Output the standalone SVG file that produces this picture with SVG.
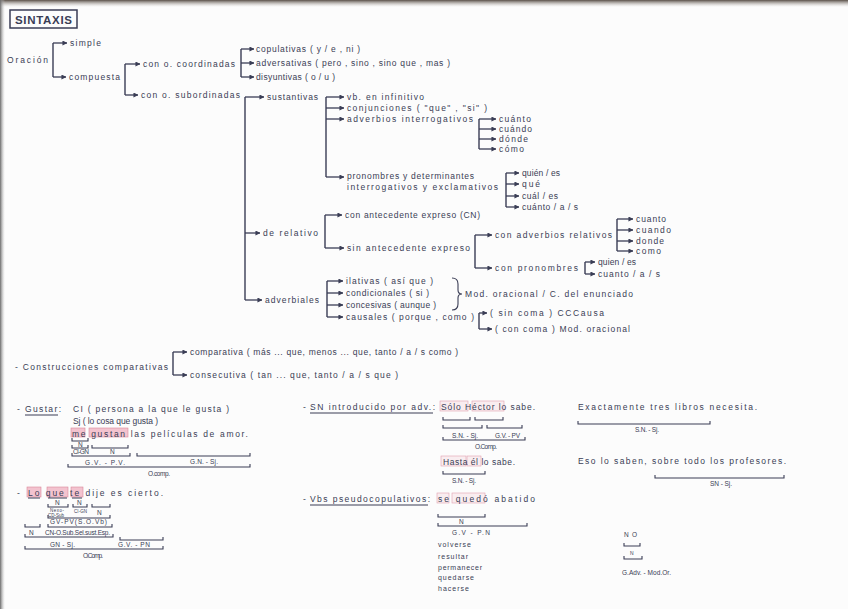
<svg xmlns="http://www.w3.org/2000/svg" width="848" height="609" viewBox="0 0 848 609">
<defs>
<linearGradient id="edge" x1="0" y1="0" x2="0" y2="1"><stop offset="0" stop-color="#5a5048"/><stop offset="1" stop-color="#c8c4c0" stop-opacity="0"/></linearGradient>
<linearGradient id="edgeL" x1="0" y1="0" x2="1" y2="0"><stop offset="0" stop-color="#6a6a6a"/><stop offset="1" stop-color="#d0d0d0" stop-opacity="0"/></linearGradient>
<marker id="ah" viewBox="0 0 6 6" refX="5.5" refY="3" markerWidth="5" markerHeight="5" markerUnits="userSpaceOnUse" orient="auto"><path d="M0,0 L6,3 L0,6 z" fill="#3a3d55"/></marker>
<style>
.t{font-family:"Liberation Sans",Arial,sans-serif;font-size:8.5px;fill:#3a3d55}
.s{font-size:6.5px}
.xs{font-size:4.5px}
.ttl{font-size:11.5px;font-weight:bold}
.v{stroke:#3a3d55;stroke-width:1.4;fill:none}
.a{stroke:#3a3d55;stroke-width:1.3;fill:none;marker-end:url(#ah)}
.br{stroke:#3a3d55;stroke-width:1.1;fill:none}
.ul{stroke:#3a3d55;stroke-width:1;fill:none}
.hl{fill:#f3c3cf;stroke:#d9879a;stroke-width:0.6}
.hl2{fill:#f6dde3;fill-opacity:0.5;stroke:#e0a0ae;stroke-width:0.6}
</style>
</defs>
<rect width="848" height="609" fill="#fcfcfc"/>
<rect width="848" height="7" fill="url(#edge)"/>
<rect width="5" height="609" fill="url(#edgeL)"/>

<g id="highlights">
<rect class="hl" x="71" y="428" width="14" height="9"/>
<rect class="hl" x="89" y="428" width="39" height="9"/>
<rect class="hl" x="27" y="487" width="14" height="10"/>
<rect class="hl" x="47" y="487" width="21" height="10"/>
<rect class="hl" x="71" y="487" width="12" height="10"/>
<rect class="hl2" x="440" y="401" width="28" height="10"/>
<rect class="hl2" x="472" y="401" width="32" height="10"/>
<rect class="hl2" x="441" y="456" width="25" height="10"/>
<rect class="hl2" x="467" y="456" width="14" height="10"/>
<rect class="hl2" x="437" y="493" width="12" height="10"/>
<rect class="hl2" x="452" y="493" width="33" height="10"/>
</g>

<g id="title">
<rect x="10" y="10" width="67" height="18" fill="none" stroke="#3a3d55" stroke-width="1.5"/>
<text class="t ttl" x="15" y="24" textLength="57">SINTAXIS</text>
</g>

<g id="connectors">
<path class="v" d="M53 43 V77"/><path class="a" d="M53 43 H67"/><path class="a" d="M53 77 H66"/>
<path class="v" d="M125 64 V95"/><path class="a" d="M125 64 H140"/><path class="a" d="M125 95 H138"/>
<path class="v" d="M241 49 V77"/><path class="a" d="M241 49 H254"/><path class="a" d="M241 63 H254"/><path class="a" d="M241 77 H254"/>
<path class="v" d="M245 97 V300"/><path class="a" d="M245 97 H264"/><path class="a" d="M245 233 H260"/><path class="a" d="M245 300 H262"/>
<path class="v" d="M326 97 V177"/><path class="a" d="M326 97 H344"/><path class="a" d="M326 108 H344"/><path class="a" d="M326 119 H344"/><path class="a" d="M326 177 H344"/>
<path class="v" d="M479 119 V149"/><path class="a" d="M479 119 H496"/><path class="a" d="M479 129 H496"/><path class="a" d="M479 139 H496"/><path class="a" d="M479 149 H496"/>
<path class="v" d="M506 173 V207"/><path class="a" d="M506 173 H519"/><path class="a" d="M506 184 H519"/><path class="a" d="M506 196 H519"/><path class="a" d="M506 207 H519"/>
<path class="v" d="M325 215 V248"/><path class="a" d="M325 215 H342"/><path class="a" d="M325 248 H344"/>
<path class="v" d="M475 235 V268"/><path class="a" d="M475 235 H492"/><path class="a" d="M475 268 H492"/>
<path class="v" d="M617 219 V251"/><path class="a" d="M617 219 H633"/><path class="a" d="M617 230 H633"/><path class="a" d="M617 241 H633"/><path class="a" d="M617 251 H633"/>
<path class="v" d="M585 262 V274"/><path class="a" d="M585 262 H595"/><path class="a" d="M585 274 H595"/>
<path class="v" d="M327 281 V317"/><path class="a" d="M327 281 H343"/><path class="a" d="M327 293 H343"/><path class="a" d="M327 305 H343"/><path class="a" d="M327 317 H343"/>
<path class="br" d="M452 278 Q458 278 458 284 V290 Q458 294 462 294 Q458 294 458 298 V304 Q458 310 452 310"/>
<path class="v" d="M479 313 V329"/><path class="a" d="M479 313 H487"/><path class="a" d="M479 329 H492"/>
<path class="v" d="M173 352 V375"/><path class="a" d="M173 352 H187"/><path class="a" d="M173 375 H187"/>
</g>

<g id="n-oracion"><text class="t" x="7" y="63" textLength="41">Oración</text></g>
<g id="n-simple"><text class="t" x="70" y="46" textLength="31">simple</text></g>
<g id="n-compuesta"><text class="t" x="69" y="80" textLength="51">compuesta</text></g>
<g id="n-coord"><text class="t" x="143" y="67" textLength="92">con o. coordinadas</text></g>
<g id="n-subord"><text class="t" x="141" y="98" textLength="99">con o. subordinadas</text></g>
<g id="n-copul"><text class="t" x="256" y="52" textLength="104">copulativas ( y / e , ni )</text></g>
<g id="n-advers"><text class="t" x="256" y="66" textLength="194">adversativas ( pero , sino , sino que , mas )</text></g>
<g id="n-disy"><text class="t" x="256" y="80" textLength="79">disyuntivas ( o / u )</text></g>
<g id="n-sust"><text class="t" x="267" y="100" textLength="51">sustantivas</text></g>
<g id="n-vbinf"><text class="t" x="347" y="100" textLength="77">vb. en infinitivo</text></g>
<g id="n-conj"><text class="t" x="347" y="111" textLength="140">conjunciones ( "que" , "si" )</text></g>
<g id="n-advint"><text class="t" x="347" y="122" textLength="126">adverbios interrogativos</text></g>
<g id="n-cuanto1"><text class="t" x="499" y="122" textLength="32">cuánto</text></g>
<g id="n-cuando1"><text class="t" x="499" y="132" textLength="33">cuándo</text></g>
<g id="n-donde1"><text class="t" x="499" y="142" textLength="29">dónde</text></g>
<g id="n-como1"><text class="t" x="499" y="152" textLength="25">cómo</text></g>
<g id="n-pron"><text class="t" x="347" y="179" textLength="127">pronombres y determinantes</text><text class="t" x="347" y="190" textLength="151">interrogativos y exclamativos</text></g>
<g id="n-quien1"><text class="t" x="522" y="176" textLength="38">quién / es</text></g>
<g id="n-que1"><text class="t" x="522" y="187" textLength="18">qué</text></g>
<g id="n-cual1"><text class="t" x="522" y="199" textLength="36">cuál / es</text></g>
<g id="n-cuanto2"><text class="t" x="522" y="210" textLength="56">cuánto / a / s</text></g>
<g id="n-relat"><text class="t" x="263" y="236" textLength="55">de relativo</text></g>
<g id="n-conant"><text class="t" x="345" y="218" textLength="135">con antecedente expreso (CN)</text></g>
<g id="n-sinant"><text class="t" x="347" y="251" textLength="123">sin antecedente expreso</text></g>
<g id="n-conadvrel"><text class="t" x="495" y="238" textLength="117">con adverbios relativos</text></g>
<g id="n-cuanto3"><text class="t" x="636" y="222" textLength="30">cuanto</text></g>
<g id="n-cuando3"><text class="t" x="636" y="233" textLength="35">cuando</text></g>
<g id="n-donde3"><text class="t" x="636" y="244" textLength="28">donde</text></g>
<g id="n-como3"><text class="t" x="636" y="254" textLength="25">como</text></g>
<g id="n-conpron"><text class="t" x="495" y="271" textLength="83">con pronombres</text></g>
<g id="n-quien2"><text class="t" x="598" y="265" textLength="38">quien / es</text></g>
<g id="n-cuanto4"><text class="t" x="598" y="277" textLength="62">cuanto / a / s</text></g>
<g id="n-adverb"><text class="t" x="265" y="303" textLength="54">adverbiales</text></g>
<g id="n-ilat"><text class="t" x="346" y="284" textLength="87">ilativas ( así que )</text></g>
<g id="n-cond"><text class="t" x="346" y="296" textLength="83">condicionales ( si )</text></g>
<g id="n-conc"><text class="t" x="346" y="308" textLength="90">concesivas ( aunque )</text></g>
<g id="n-caus"><text class="t" x="346" y="320" textLength="128">causales ( porque , como )</text></g>
<g id="n-modor"><text class="t" x="465" y="297" textLength="168">Mod. oracional / C. del enunciado</text></g>
<g id="n-sincoma"><text class="t" x="490" y="316" textLength="114">( sin coma ) CCCausa</text></g>
<g id="n-concoma"><text class="t" x="495" y="332" textLength="135">( con coma ) Mod. oracional</text></g>
<g id="n-constr"><text class="t" x="15" y="370" textLength="153">- Construcciones comparativas</text></g>
<g id="n-compar"><text class="t" x="190" y="355" textLength="268">comparativa ( más ... que, menos ... que, tanto / a / s como )</text></g>
<g id="n-consec"><text class="t" x="190" y="378" textLength="208">consecutiva ( tan ... que, tanto / a / s que )</text></g>

<g id="gustar">
<text class="t" x="17" y="412">-</text>
<text class="t" x="25" y="412" textLength="36">Gustar:</text>
<path class="ul" d="M25 415 H58"/>
<text class="t" x="73" y="412" textLength="156">CI ( persona a la que le gusta )</text>
<text class="t" x="73" y="424" textLength="85">Sj ( lo cosa que gusta )</text>
<text class="t" x="72" y="437" textLength="176">me gustan las películas de amor.</text>
<path class="br" d="M72 438 V441 H88 V438"/>
<text class="t s" x="78" y="447">N</text>
<path class="br" d="M72 445 V448 H88 V445"/>
<path class="br" d="M92 445 V448 H128 V445"/>
<text class="t s" x="73" y="454" textLength="16">CI-GN</text>
<text class="t s" x="110" y="454">N</text>
<path class="br" d="M72 453 V456 H130 V453"/>
<path class="br" d="M137 453 V456 H250 V453"/>
<text class="t s" x="85" y="465" textLength="40">G.V. - P.V.</text>
<text class="t s" x="190" y="464" textLength="28">G.N. - Sj.</text>
<path class="br" d="M68 464 V467 H250 V464"/>
<text class="t s" x="148" y="476" textLength="22">O.comp.</text>
</g>

<g id="lo-que">
<text class="t" x="17" y="496">-</text>
<text class="t" x="28" y="496" textLength="135">Lo  que  te  dije  es  cierto.</text>
<path class="ul" d="M28 498 H40 M48 498 H67 M72 498 H82"/>
<text class="t s" x="55" y="505">N</text>
<text class="t s" x="77" y="505">N</text>
<path class="br" d="M48 504 V507 H68 V504"/>
<path class="br" d="M73 504 V507 H87 V504"/>
<path class="br" d="M92 504 V507 H110 V504"/>
<text class="t xs" x="50" y="511.5" textLength="14">Nexo-</text>
<text class="t xs" x="48" y="516.5" textLength="16">CD-Sub</text>
<text class="t xs" x="74" y="513" textLength="13">CI-GN</text>
<text class="t s" x="97" y="515">N</text>
<path class="br" d="M48 515 V518 H110 V515"/>
<text class="t s" x="50" y="524" textLength="57">GV-PV(S.O.Vb)</text>
<path class="br" d="M48 524 V527 H112 V524"/>
<path class="br" d="M25 524 V527 H40 V524"/>
<text class="t s" x="29" y="535">N</text>
<text class="t s" x="45" y="535" textLength="65">CN-O.Sub.Sel.sust.Esp.</text>
<path class="br" d="M25 534 V537 H113 V534"/>
<path class="br" d="M120 537 V540 H163 V537"/>
<text class="t s" x="50" y="547" textLength="25">GN - Sj.</text>
<text class="t s" x="118" y="547" textLength="32">G.V. - PN</text>
<path class="br" d="M25 546 V549 H163 V546"/>
<text class="t s" x="83" y="558" textLength="20">O.Comp.</text>
</g>

<g id="sn-adv">
<text class="t" x="303" y="410">-</text>
<text class="t" x="310" y="410" textLength="125">SN introducido por adv.:</text>
<path class="ul" d="M310 413 H433"/>
<text class="t" x="441" y="410" textLength="94">Sólo Héctor lo sabe.</text>
<path class="br" d="M443 417 V420 H470 V417"/>
<path class="br" d="M475 417 V420 H503 V417"/>
<path class="br" d="M443 425 V428 H482 V425"/>
<path class="br" d="M487 425 V428 H522 V425"/>
<text class="t s" x="452" y="438" textLength="26">S.N. - Sj.</text>
<text class="t s" x="495" y="438" textLength="25">G.V. - PV</text>
<path class="br" d="M443 437 V440 H525 V437"/>
<text class="t s" x="475" y="449" textLength="22">O.Comp.</text>
<text class="t" x="443" y="465" textLength="72">Hasta él lo sabe.</text>
<path class="br" d="M443 471 V474 H485 V471"/>
<text class="t s" x="452" y="483" textLength="24">S.N. - Sj.</text>
<text class="t" x="578" y="410" textLength="179">Exactamente tres libros necesita.</text>
<path class="br" d="M578 421 V424 H710 V421"/>
<text class="t s" x="635" y="432" textLength="24">S.N. - Sj.</text>
<text class="t" x="578" y="464" textLength="208">Eso lo saben, sobre todo los profesores.</text>
<path class="br" d="M655 475 V478 H784 V475"/>
<text class="t s" x="710" y="486" textLength="22">SN - Sj.</text>
</g>

<g id="vbs-pseudo">
<text class="t" x="303" y="502">-</text>
<text class="t" x="310" y="502" textLength="120">Vbs pseudocopulativos:</text>
<path class="ul" d="M310 505 H428"/>
<text class="t" x="438" y="502" textLength="97">se quedó abatido</text>
<path class="br" d="M438 514 V517 H485 V514"/>
<text class="t s" x="459" y="524">N</text>
<path class="br" d="M438 523 V526 H527 V523"/>
<text class="t s" x="452" y="535" textLength="38">G.V - P.N</text>
<text class="t s" x="438" y="547" style="font-size:7px" textLength="33">volverse</text>
<text class="t s" x="438" y="559" style="font-size:7px" textLength="30">resultar</text>
<text class="t s" x="438" y="570" style="font-size:7px" textLength="44">permanecer</text>
<text class="t s" x="438" y="580" style="font-size:7px" textLength="36">quedarse</text>
<text class="t s" x="438" y="591" style="font-size:7px" textLength="31">hacerse</text>
<text class="t s" x="624" y="537" textLength="13">NO</text>
<path class="br" d="M624 543 V546 H640 V543"/>
<text class="t s" x="630" y="555" style="font-size:5px">N</text>
<path class="br" d="M624 556 V559 H642 V556"/>
<text class="t s" x="622" y="575" textLength="49">G.Adv. - Mod.Or.</text>
</g>
</svg>
